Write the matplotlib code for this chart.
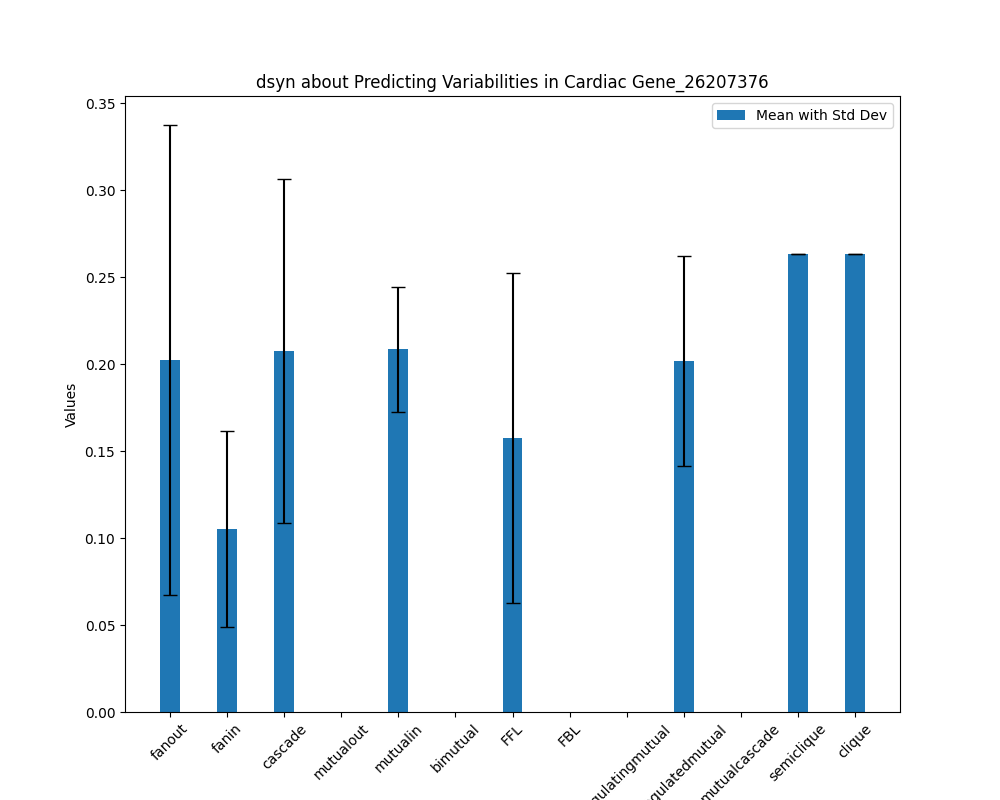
import matplotlib
matplotlib.use("Agg")
import matplotlib.pyplot as plt
import numpy as np

nan = float("nan")
categories = ["fanout", "fanin", "cascade", "mutualout", "mutualin", "bimutual",
              "FFL", "FBL", "regulatingmutual", "regulatedmutual", "mutualcascade",
              "semiclique", "clique"]
means = [0.2023, 0.1052, 0.2075, 0.0, 0.2085, 0.0, 0.1575, 0.0, 0.0, 0.2017, 0.0, 0.2632, 0.2632]
stds = [0.1351, 0.0563, 0.0989, nan, 0.0360, nan, 0.0948, nan, nan, 0.0603, nan, 0.0, 0.0]

fig, ax = plt.subplots(figsize=(10, 8), dpi=100)
x = np.arange(len(categories))
ax.bar(x, means, 0.35, yerr=stds, capsize=5, label="Mean with Std Dev")
ax.set_ylabel("Values")
ax.set_title("dsyn about Predicting Variabilities in Cardiac Gene_26207376")
ax.set_xticks(x)
ax.set_xticklabels(categories, rotation=45)
ax.legend()
fig.savefig("out.png")
